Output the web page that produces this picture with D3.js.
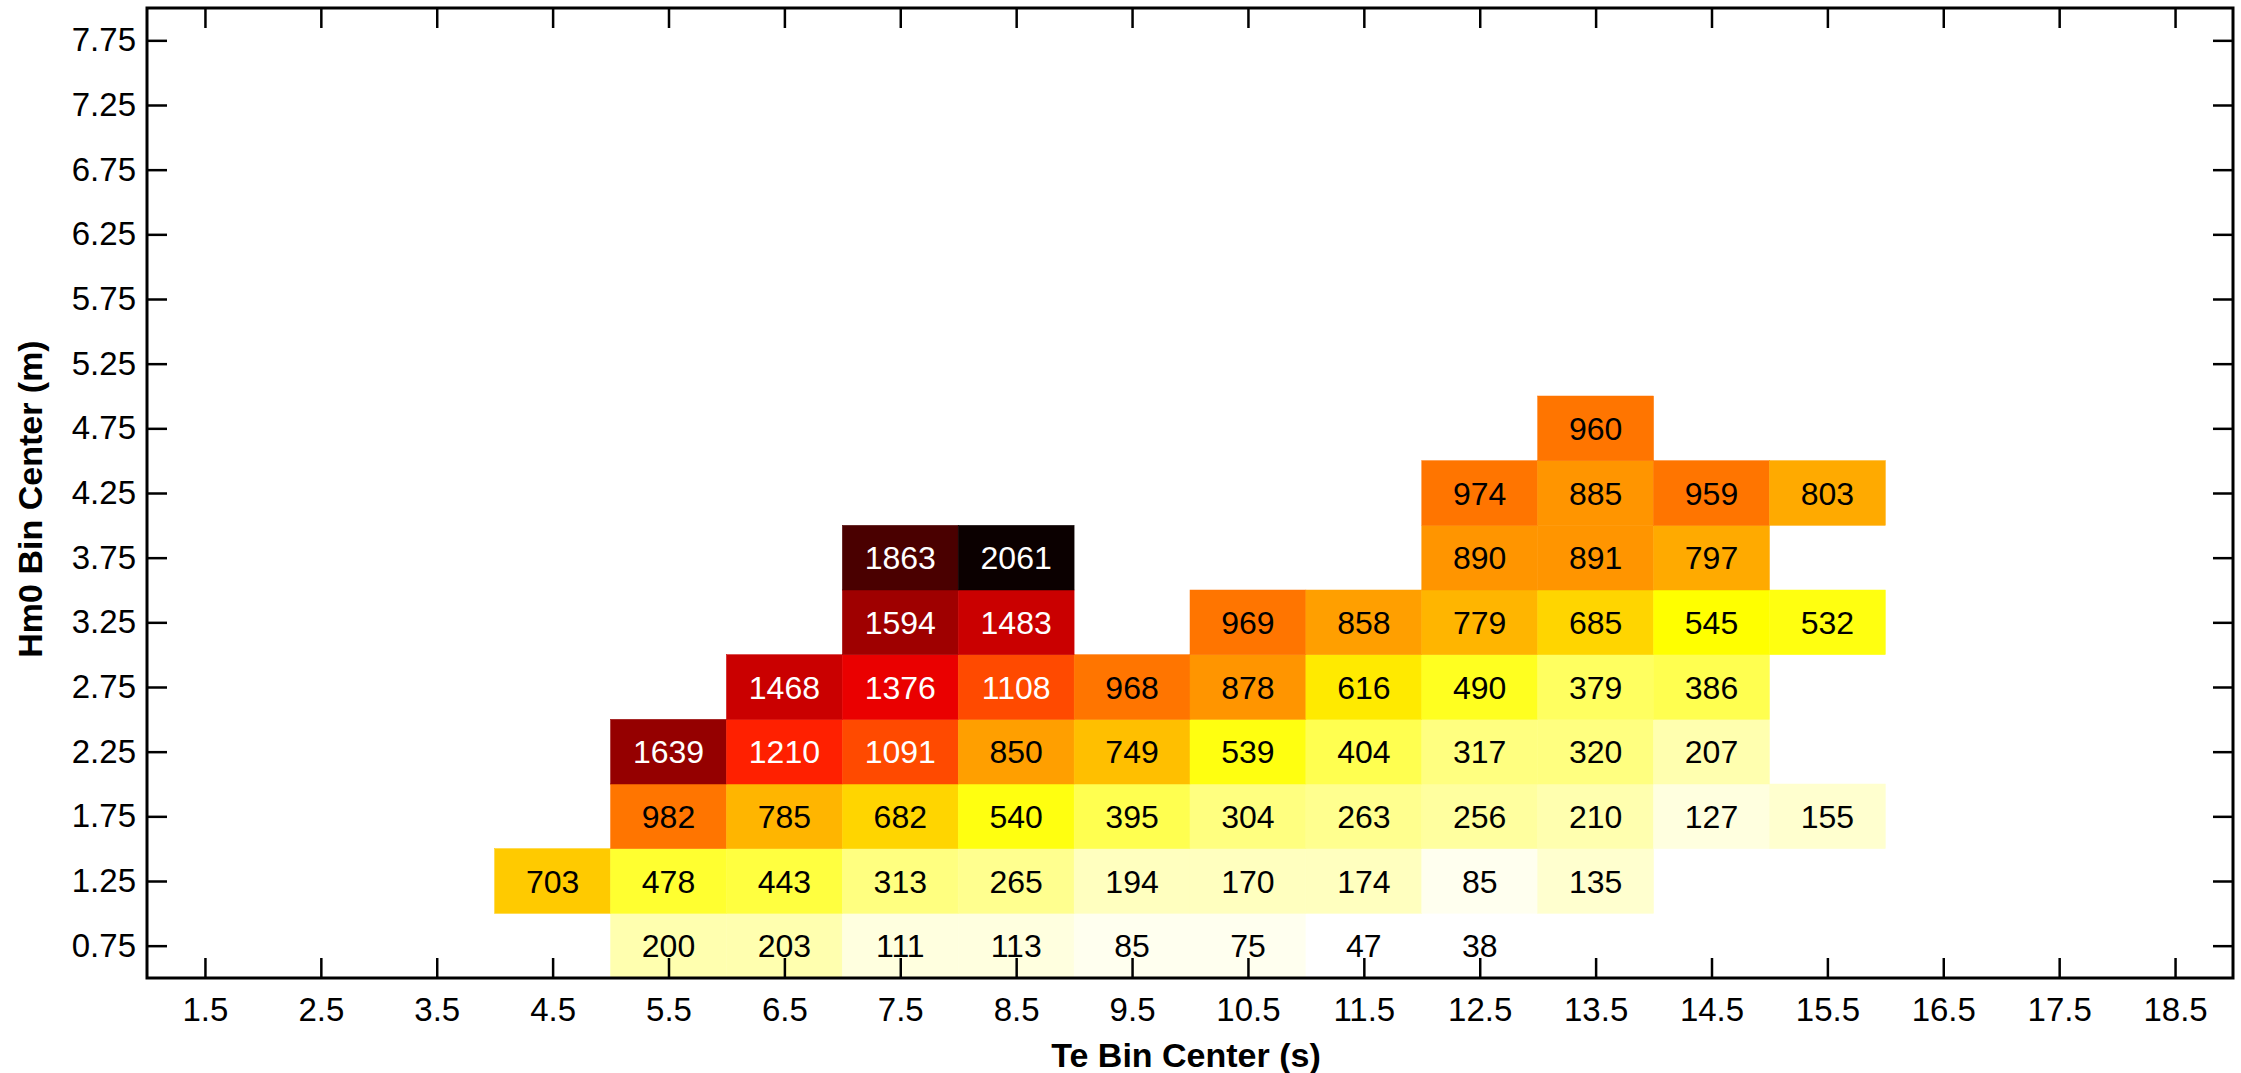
<!DOCTYPE html>
<html>
<head>
<meta charset="utf-8">
<script src="https://cdn.jsdelivr.net/npm/d3@7"></script>
<style>
  html, body { margin: 0; padding: 0; background: #fff; }
  svg { display: block; }
  text { font-family: "Liberation Sans", Arial, Helvetica, sans-serif; }
</style>
</head>
<body>
<svg id="chart" width="2241" height="1073"></svg>
<script>
// ---- data ----
const teTicks = [1.5, 2.5, 3.5, 4.5, 5.5, 6.5, 7.5, 8.5, 9.5, 10.5, 11.5, 12.5, 13.5, 14.5, 15.5, 16.5, 17.5, 18.5];
const hm0Ticks = [0.75, 1.25, 1.75, 2.25, 2.75, 3.25, 3.75, 4.25, 4.75, 5.25, 5.75, 6.25, 6.75, 7.25, 7.75];
const teCols = [4.5, 5.5, 6.5, 7.5, 8.5, 9.5, 10.5, 11.5, 12.5, 13.5, 14.5, 15.5];
const hm0Rows = [0.75, 1.25, 1.75, 2.25, 2.75, 3.25, 3.75, 4.25, 4.75];
const row075 = [null, 200, 203, 111, 113, 85, 75, 47, 38, null, null, null];
const row125 = [703, 478, 443, 313, 265, 194, 170, 174, 85, 135, null, null];
const row175 = [null, 982, 785, 682, 540, 395, 304, 263, 256, 210, 127, 155];
const row225 = [null, 1639, 1210, 1091, 850, 749, 539, 404, 317, 320, 207, null];
const row275 = [null, null, 1468, 1376, 1108, 968, 878, 616, 490, 379, 386, null];
const row325 = [null, null, null, 1594, 1483, null, 969, 858, 779, 685, 545, 532];
const row375 = [null, null, null, 1863, 2061, null, null, null, 890, 891, 797, null];
const row425 = [null, null, null, null, null, null, null, null, 974, 885, 959, 803];
const row475 = [null, null, null, null, null, null, null, null, null, 960, null, null];
const countRows = [row075, row125, row175, row225, row275, row325, row375, row425, row475];
const xLabel = "Te Bin Center (s)";
const yLabel = "Hm0 Bin Center (m)";

// ---- layout ----
const W = 2241, H = 1073;
const margin = { left: 147, top: 8, right: 8, bottom: 95 };
const pw = W - margin.left - margin.right;
const ph = H - margin.top - margin.bottom;

const svg = d3.select("#chart");
const g = svg.append("g").attr("transform", `translate(${margin.left},${margin.top})`);

const x = d3.scaleLinear().domain([1, 19]).range([0, pw]);
const y = d3.scaleLinear().domain([0.5, 8]).range([ph, 0]);

// reversed MATLAB "hot" colormap (64 entries)
const m = 64, n = Math.floor(3 / 8 * m);
const hot = d3.range(1, m + 1).map(i => {
  const r = Math.min(i / n, 1);
  const gg = Math.max(0, Math.min((i - n) / n, 1));
  const b = Math.max(0, Math.min((i - 2 * n) / (m - 2 * n), 1));
  return d3.rgb(r * 255, gg * 255, b * 255).formatHex();
});
const hotRev = hot.slice().reverse();

const cells = [];
countRows.forEach((row, ri) => {
  row.forEach((v, ci) => {
    if (v !== null) cells.push({ te: teCols[ci], hm: hm0Rows[ri], v });
  });
});
const color = d3.scaleQuantize()
  .domain([d3.min(cells, d => d.v), d3.max(cells, d => d.v)])
  .range(hotRev);

const halfW = 0.5, halfH = 0.25;
g.append("g").selectAll("rect").data(cells).join("rect")
  .attr("x", d => x(d.te - halfW))
  .attr("y", d => y(d.hm + halfH))
  .attr("width", d => x(d.te + halfW) - x(d.te - halfW))
  .attr("height", d => y(d.hm - halfH) - y(d.hm + halfH))
  .attr("fill", d => color(d.v))
  .attr("stroke", d => color(d.v))
  .attr("stroke-width", 0.5);

g.append("g").selectAll("text").data(cells).join("text")
  .attr("x", d => x(d.te))
  .attr("y", d => y(d.hm))
  .attr("dy", "0.36em")
  .attr("text-anchor", "middle")
  .attr("font-size", 32)
  .attr("fill", d => d.v > 1000 ? "#ffffff" : "#000000")
  .text(d => d.v);

// axes
const tickLen = 20;
const fmtX = d => d3.format(".1f")(d);
const fmtY = d => d3.format(".2f")(d);

const axB = g.append("g").attr("transform", `translate(0,${ph})`)
  .call(d3.axisBottom(x).tickValues(teTicks).tickFormat(fmtX).tickSize(-tickLen).tickPadding(20));
const axT = g.append("g")
  .call(d3.axisTop(x).tickValues(teTicks).tickFormat("").tickSize(-tickLen));
const axL = g.append("g")
  .call(d3.axisLeft(y).tickValues(hm0Ticks).tickFormat(fmtY).tickSize(-tickLen).tickPadding(11));
const axR = g.append("g").attr("transform", `translate(${pw},0)`)
  .call(d3.axisRight(y).tickValues(hm0Ticks).tickFormat("").tickSize(-tickLen));

[axB, axT, axL, axR].forEach(a => {
  a.select(".domain").remove();
  a.selectAll(".tick line").attr("stroke", "#000").attr("stroke-width", 2.5);
  a.selectAll(".tick text").attr("font-size", 33).attr("fill", "#000")
    .attr("font-family", '"Liberation Sans", Arial, sans-serif');
});

g.append("rect")
  .attr("x", 0).attr("y", 0).attr("width", pw).attr("height", ph)
  .attr("fill", "none").attr("stroke", "#000").attr("stroke-width", 3);

// axis titles
svg.append("text")
  .attr("x", margin.left + pw / 2 - 4)
  .attr("y", 1067)
  .attr("text-anchor", "middle")
  .attr("font-size", 34)
  .attr("font-weight", "bold")
  .text(xLabel);

svg.append("text")
  .attr("transform", `translate(42,499) rotate(-90)`)
  .attr("text-anchor", "middle")
  .attr("font-size", 34)
  .attr("font-weight", "bold")
  .text(yLabel);
</script>
</body>
</html>
